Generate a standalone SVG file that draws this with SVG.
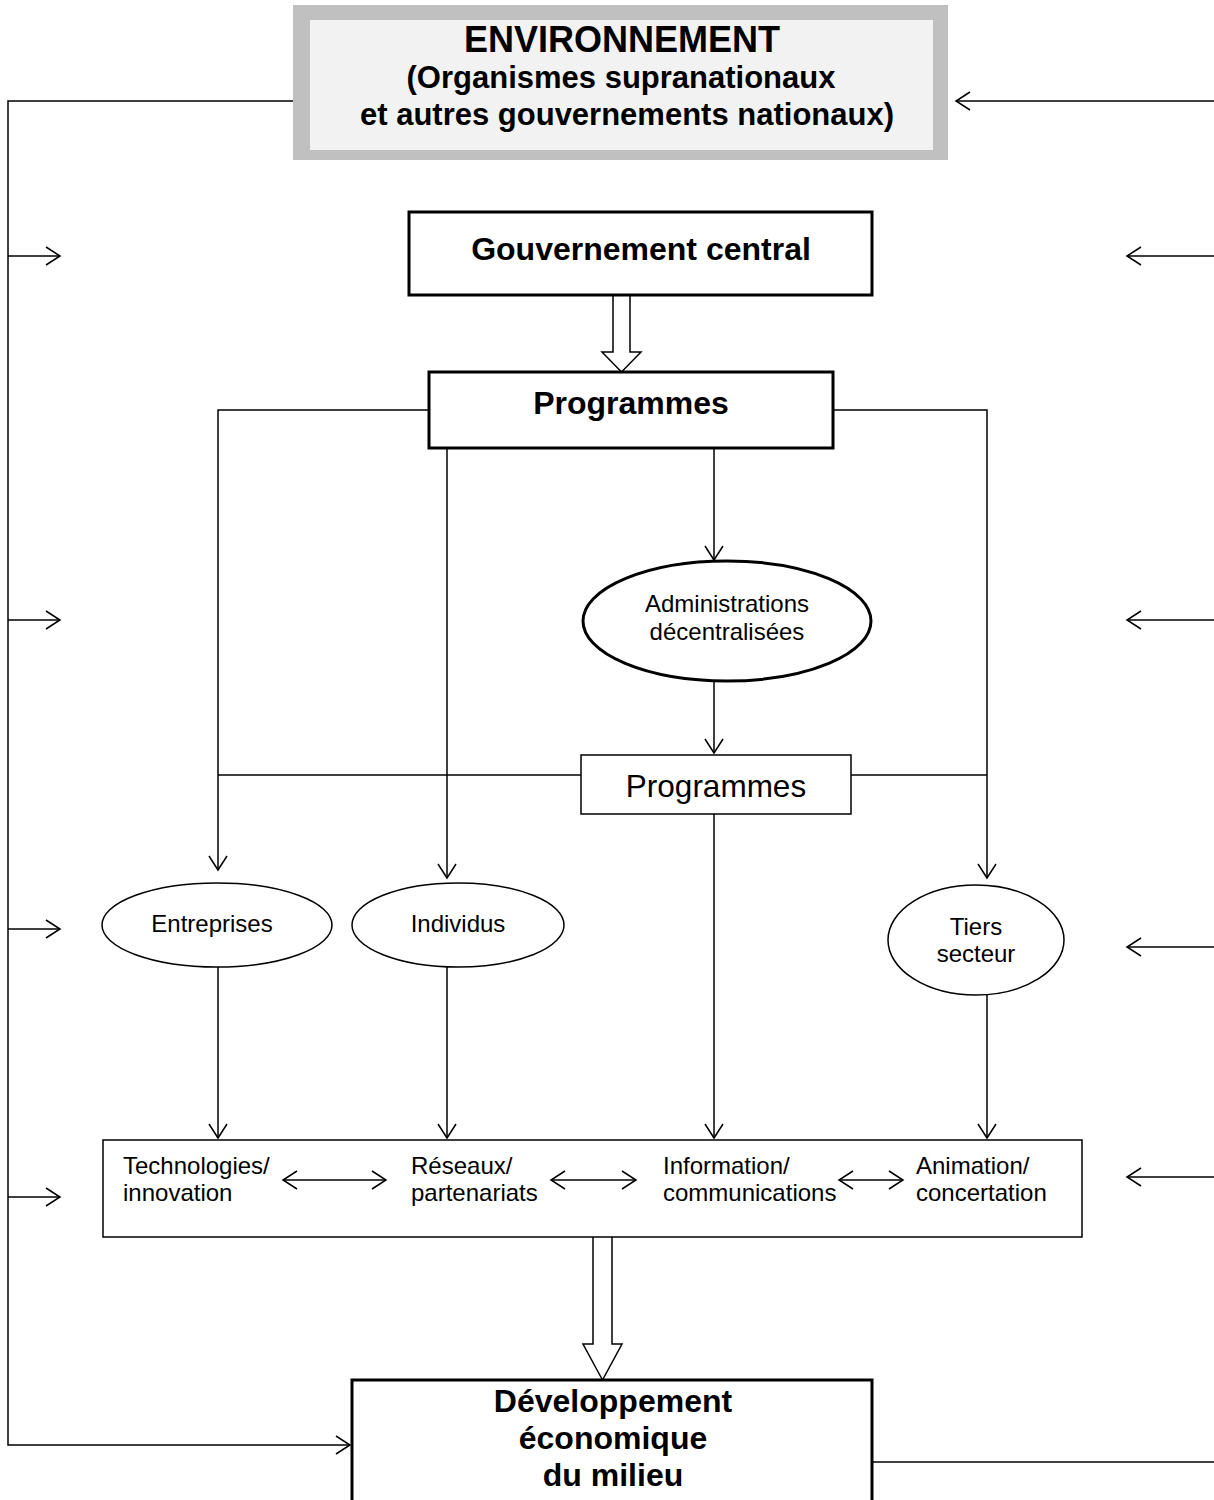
<svg xmlns="http://www.w3.org/2000/svg" width="1214" height="1500" viewBox="0 0 1214 1500">
<style>
text{font-family:"Liberation Sans",Arial,sans-serif;fill:#000;text-anchor:middle}
.b{font-weight:bold}
.s{font-size:24px}
.l{text-anchor:start;font-size:24px}
.c{stroke:#000;stroke-width:1.5;fill:none}
.thick{stroke:#000;stroke-width:3;fill:#fff}
.thin{stroke:#000;stroke-width:1.5;fill:#fff}
</style>
<defs>
<marker id="a" markerUnits="userSpaceOnUse" markerWidth="22" markerHeight="22" viewBox="-16 -11 18 22" refX="0" refY="0" orient="auto-start-reverse">
<path d="M-14,-9 L0,0 L-14,9" fill="none" stroke="#000" stroke-width="1.5"/>
</marker>
</defs>
<rect width="1214" height="1500" fill="#fff"/>
<g id="connectors">
<path class="c" d="M293,101 H8 V1445 H350" marker-end="url(#a)"/>
<path class="c" d="M8,256 H60" marker-end="url(#a)"/>
<path class="c" d="M8,620 H60" marker-end="url(#a)"/>
<path class="c" d="M8,929 H60" marker-end="url(#a)"/>
<path class="c" d="M8,1197 H60" marker-end="url(#a)"/>
<path class="c" d="M1214,101 H956" marker-end="url(#a)"/>
<path class="c" d="M1214,256 H1127" marker-end="url(#a)"/>
<path class="c" d="M1214,620 H1127" marker-end="url(#a)"/>
<path class="c" d="M1214,947 H1127" marker-end="url(#a)"/>
<path class="c" d="M1214,1177 H1127" marker-end="url(#a)"/>
<path class="c" d="M872,1462 H1214"/>
<path d="M613,295 V352 H602 L621.5,372 L641,352 H630 V295" fill="#fff" stroke="#000" stroke-width="1.5"/>
<path class="c" d="M429,410 H218 V870" marker-end="url(#a)"/>
<path class="c" d="M447,448 V878" marker-end="url(#a)"/>
<path class="c" d="M714,448 V560" marker-end="url(#a)"/>
<path class="c" d="M833,410 H987 V878" marker-end="url(#a)"/>
<path class="c" d="M714,682 V753" marker-end="url(#a)"/>
<path class="c" d="M218,775 H581"/>
<path class="c" d="M851,775 H987"/>
<path class="c" d="M714,814 V1138" marker-end="url(#a)"/>
<path class="c" d="M218,967 V1138" marker-end="url(#a)"/>
<path class="c" d="M447,967 V1138" marker-end="url(#a)"/>
<path class="c" d="M987,995 V1138" marker-end="url(#a)"/>
<path class="c" d="M283,1180 H386" marker-start="url(#a)" marker-end="url(#a)"/>
<path class="c" d="M551,1180 H636" marker-start="url(#a)" marker-end="url(#a)"/>
<path class="c" d="M839,1180 H903" marker-start="url(#a)" marker-end="url(#a)"/>
<path d="M593,1237 V1344 H583 L602.5,1380 L622,1344 H612 V1237" fill="#fff" stroke="#000" stroke-width="1.5"/>
</g>
<g id="environnement">
<rect x="293" y="5" width="655" height="155" fill="#c0c0c0"/>
<rect x="310" y="20" width="623" height="130" fill="#f2f2f2"/>
<text x="622" y="52" class="b" font-size="36">ENVIRONNEMENT</text>
<text x="621" y="88" class="b" font-size="31">(Organismes supranationaux</text>
<text x="627" y="125" class="b" font-size="31">et autres gouvernements nationaux)</text>
</g>
<g id="gouvernement">
<rect x="409" y="212" width="463" height="83" class="thick"/>
<text x="641" y="260" class="b" font-size="32">Gouvernement central</text>
</g>
<g id="programmes1">
<rect x="429" y="372" width="404" height="76" class="thick"/>
<text x="631" y="414" class="b" font-size="32">Programmes</text>
</g>
<g id="administrations">
<ellipse cx="727" cy="621" rx="144" ry="60" class="thick"/>
<text x="727" y="612" class="s">Administrations</text>
<text x="727" y="640" class="s">décentralisées</text>
</g>
<g id="programmes2">
<rect x="581" y="755" width="270" height="59" class="thin"/>
<text x="716" y="797" font-size="31.5">Programmes</text>
</g>
<g id="entreprises">
<ellipse cx="217" cy="925" rx="115" ry="42" class="thin"/>
<text x="212" y="932" class="s">Entreprises</text>
</g>
<g id="individus">
<ellipse cx="458" cy="925" rx="106" ry="42" class="thin"/>
<text x="458" y="932" class="s">Individus</text>
</g>
<g id="tiers">
<ellipse cx="976" cy="940" rx="88" ry="55" class="thin"/>
<text x="976" y="935" class="s">Tiers</text>
<text x="976" y="962" class="s">secteur</text>
</g>
<g id="leviers">
<rect x="103" y="1140" width="979" height="97" class="c"/>
<text x="123" y="1174" class="l">Technologies/</text>
<text x="123" y="1201" class="l">innovation</text>
<text x="411" y="1174" class="l">Réseaux/</text>
<text x="411" y="1201" class="l">partenariats</text>
<text x="663" y="1174" class="l">Information/</text>
<text x="663" y="1201" class="l">communications</text>
<text x="916" y="1174" class="l">Animation/</text>
<text x="916" y="1201" class="l">concertation</text>
</g>
<g id="developpement">
<rect x="352" y="1380" width="520" height="130" class="thick"/>
<text x="613" y="1412" class="b" font-size="32">Développement</text>
<text x="613" y="1449" class="b" font-size="32">économique</text>
<text x="613" y="1486" class="b" font-size="32">du milieu</text>
</g>
</svg>
